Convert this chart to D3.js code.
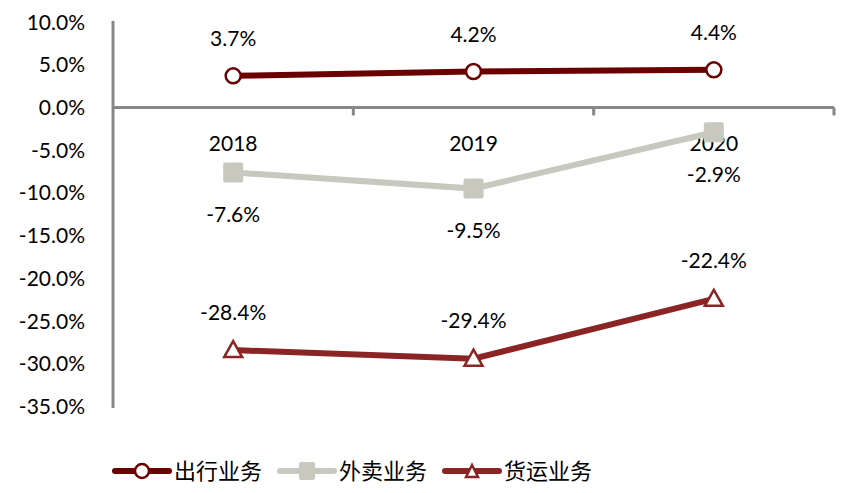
<!DOCTYPE html>
<html><head><meta charset="utf-8">
<script src="https://cdn.jsdelivr.net/npm/d3@7"></script>
<style>body{margin:0;background:#fff}svg{display:block}</style>
</head><body>
<svg id="c" width="850" height="493"></svg>
<script>
const categories = ["2018", "2019", "2020"];
const travel = [3.7, 4.2, 4.4];
const delivery = [-7.6, -9.5, -2.9];
const freight = [-28.4, -29.4, -22.4];
const yTicks = [10, 5, 0, -5, -10, -15, -20, -25, -30, -35];
const seriesNames = ["出行业务", "外卖业务", "货运业务"];

const svg = d3.select("#c");
const font = "Lato, 'Open Sans', sans-serif";
const fs = 21;
const x = d3.scaleBand().domain(categories).range([113, 834]);
const y = d3.scaleLinear().domain([-35, 10]).range([406.5, 22]);
const cx = c => x(c) + x.bandwidth() / 2;

// y axis
svg.append("line").attr("x1", 113).attr("x2", 113).attr("y1", 21).attr("y2", 408)
  .attr("stroke", "#878787").attr("stroke-width", 3);
svg.selectAll(".yl").data(yTicks).enter().append("text")
  .attr("x", 85).attr("y", d => y(d)).attr("dy", "0.36em").attr("text-anchor", "end")
  .attr("font-family", font).attr("font-size", fs).attr("fill", "#000")
  .text(d => d.toFixed(1) + "%");
// x axis at zero
svg.append("line").attr("x1", 113).attr("x2", 834).attr("y1", y(0)).attr("y2", y(0))
  .attr("stroke", "#878787").attr("stroke-width", 3);
const xt = [x(categories[1]), x(categories[2]), x.range()[1]];
svg.selectAll(".xt").data(xt).enter().append("line")
  .attr("x1", d => d).attr("x2", d => d).attr("y1", y(0)).attr("y2", y(0) + 8)
  .attr("stroke", "#878787").attr("stroke-width", 3);
svg.selectAll(".xl").data(categories).enter().append("text")
  .attr("x", d => cx(d)).attr("y", 143).attr("dy", "0.36em").attr("text-anchor", "middle")
  .attr("font-family", font).attr("font-size", fs).text(d => d);

const line = d3.line().x((d, i) => cx(categories[i])).y(d => y(d));
function drawLine(data, color) {
  svg.append("path").datum(data).attr("d", line).attr("fill", "none")
    .attr("stroke", color).attr("stroke-width", 6);
}
function labels(data, off) {
  svg.selectAll(null).data(data).enter().append("text")
    .attr("x", (d, i) => cx(categories[i])).attr("y", d => y(d) + off).attr("dy", "0.36em")
    .attr("text-anchor", "middle").attr("font-family", font).attr("font-size", fs)
    .text(d => d.toFixed(1) + "%");
}
const triPath = "M0,-9 L9,7 L-9,7 Z";

// delivery
drawLine(delivery, "#C8C8BE");
svg.selectAll(null).data(delivery).enter().append("rect")
  .attr("x", (d, i) => cx(categories[i]) - 10).attr("y", d => y(d) - 10)
  .attr("width", 20).attr("height", 20).attr("rx", 2).attr("fill", "#C8C8BE");
labels(delivery, 42);
// travel
drawLine(travel, "#6B0000");
svg.selectAll(null).data(travel).enter().append("circle")
  .attr("cx", (d, i) => cx(categories[i])).attr("cy", d => y(d)).attr("r", 7.5)
  .attr("fill", "#fff").attr("stroke", "#6B0000").attr("stroke-width", 2.5);
labels(travel, -37);
// freight
drawLine(freight, "#8B2525");
svg.selectAll(null).data(freight).enter().append("path")
  .attr("transform", (d, i) => `translate(${cx(categories[i])},${y(d)})`)
  .attr("d", triPath).attr("fill", "#fff").attr("stroke", "#8B2525").attr("stroke-width", 2.5);
labels(freight, -38);

// legend
const leg = [
  {name: seriesNames[0], color: "#6B0000", x: 115, type: "circle"},
  {name: seriesNames[1], color: "#C8C8BE", x: 280, type: "rect"},
  {name: seriesNames[2], color: "#8B2525", x: 445, type: "tri"}
];
const ly = 471;
leg.forEach(l => {
  svg.append("line").attr("x1", l.x).attr("x2", l.x + 54).attr("y1", ly).attr("y2", ly)
    .attr("stroke", l.color).attr("stroke-width", 6).attr("stroke-linecap", "round");
  const mx = l.x + 27;
  if (l.type === "circle") svg.append("circle").attr("cx", mx).attr("cy", ly).attr("r", 7)
    .attr("fill", "#fff").attr("stroke", l.color).attr("stroke-width", 2.5);
  else if (l.type === "rect") svg.append("rect").attr("x", mx - 8).attr("y", ly - 9)
    .attr("width", 16).attr("height", 18).attr("rx", 2).attr("fill", l.color);
  else svg.append("path").attr("transform", `translate(${mx},${ly})`).attr("d", "M0,-6 L6,6 L-6,6 Z")
    .attr("fill", "#fff").attr("stroke", l.color).attr("stroke-width", 2.5);
  svg.append("text").attr("x", l.x + 59).attr("y", ly).attr("dy", "0.36em")
    .attr("font-family", "'Noto Sans CJK SC', sans-serif").attr("font-size", 22).text(l.name);
});
</script>
</body></html>
